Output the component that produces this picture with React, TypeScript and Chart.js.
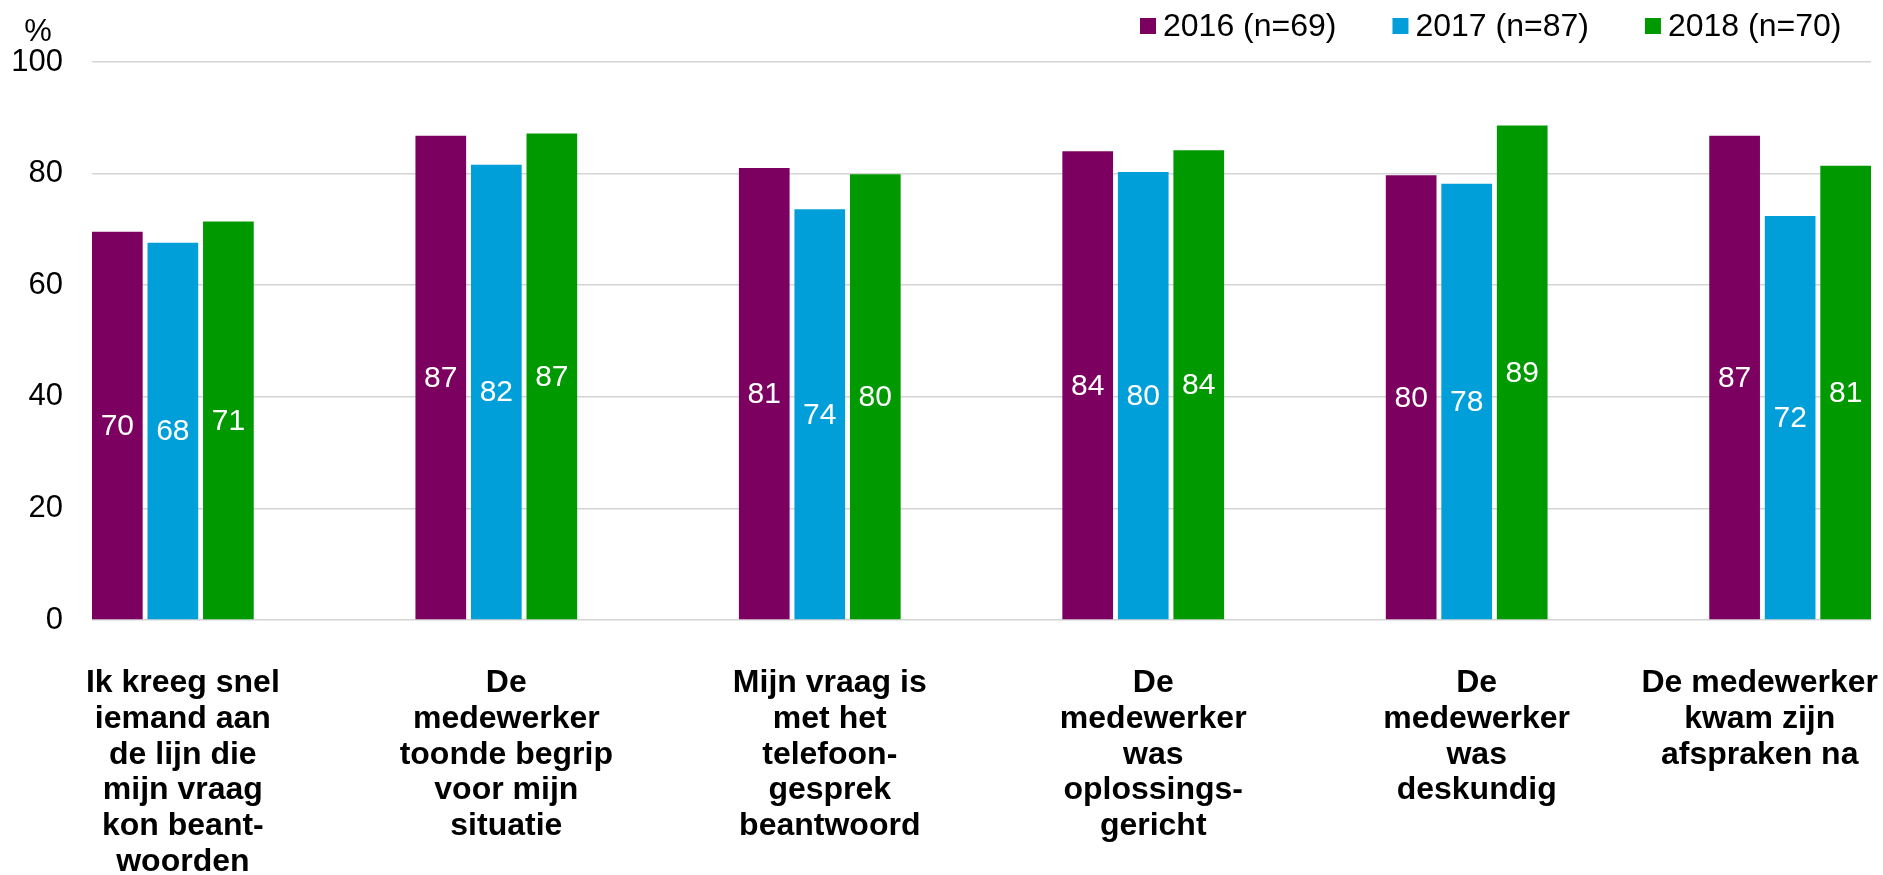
import React, { useEffect, useRef } from 'react';
import { Chart, registerables } from 'chart.js';

Chart.register(...registerables);

const categories: string[][] = [
  ['Ik kreeg snel', 'iemand aan', 'de lijn die', 'mijn vraag', 'kon beant-', 'woorden'],
  ['De', 'medewerker', 'toonde begrip', 'voor mijn', 'situatie'],
  ['Mijn vraag is', 'met het', 'telefoon-', 'gesprek', 'beantwoord'],
  ['De', 'medewerker', 'was', 'oplossings-', 'gericht'],
  ['De', 'medewerker', 'was', 'deskundig'],
  ['De medewerker', 'kwam zijn', 'afspraken na'],
];

const seriesLabels = ['2016 (n=69)', '2017 (n=87)', '2018 (n=70)'];
const seriesColors = ['#7B0060', '#009FDA', '#009900'];

const values2016 = [69.6, 86.8, 81.0, 84.0, 79.7, 86.8];
const values2017 = [67.6, 81.6, 73.6, 80.3, 78.2, 72.4];
const values2018 = [71.4, 87.2, 79.9, 84.2, 88.6, 81.4];

const yTicks = [0, 20, 40, 60, 80, 100];
const yUnit = '%';

const FONT = "'Liberation Sans', Arial, Helvetica, sans-serif";

const decorPlugin = {
  id: 'decor',
  afterDatasetsDraw(chart: any) {
    const ctx = chart.ctx;
    ctx.save();
    ctx.fillStyle = '#ffffff';
    ctx.font = `30px ${FONT}`;
    ctx.textAlign = 'center';
    ctx.textBaseline = 'middle';
    chart.data.datasets.forEach((ds: any, di: number) => {
      const meta = chart.getDatasetMeta(di);
      meta.data.forEach((el: any, i: number) => {
        const v = ds.data[i].y;
        ctx.fillText(String(Math.round(v)), el.x, (el.y + el.base) / 2 + 1);
      });
    });
    ctx.restore();
  },
  afterDraw(chart: any) {
    const ctx = chart.ctx;
    const area = chart.chartArea;
    const xScale = chart.scales.x;
    const W = chart.width;

    // unit label
    ctx.save();
    ctx.fillStyle = '#000';
    ctx.font = `31px ${FONT}`;
    ctx.textAlign = 'center';
    ctx.textBaseline = 'alphabetic';
    ctx.fillText(yUnit, 38, 41);
    ctx.restore();

    // category labels
    ctx.save();
    ctx.fillStyle = '#000';
    ctx.font = `bold 32px ${FONT}`;
    ctx.textAlign = 'center';
    ctx.textBaseline = 'alphabetic';
    const lineH = 35.8;
    categories.forEach((lines, i) => {
      const maxW = Math.max(...lines.map((l) => ctx.measureText(l).width));
      let cx = xScale.getPixelForValue(i) + 10;
      const half = maxW / 2;
      cx = Math.min(Math.max(cx, half + 5), W - half - 5);
      lines.forEach((l, li) => {
        ctx.fillText(l, cx, area.bottom + 72 + li * lineH);
      });
    });
    ctx.restore();

    // legend
    ctx.save();
    ctx.font = `32px ${FONT}`;
    ctx.textBaseline = 'alphabetic';
    ctx.textAlign = 'left';
    let x = 1140;
    chart.data.datasets.forEach((ds: any) => {
      ctx.fillStyle = ds.backgroundColor;
      ctx.fillRect(x, 18, 16, 16);
      ctx.fillStyle = '#000';
      ctx.fillText(ds.label, x + 23, 36);
      const tw = ctx.measureText(ds.label).width;
      x += 23 + tw + 56;
    });
    ctx.restore();
  },
};

export default function App() {
  const canvasRef = useRef<HTMLCanvasElement | null>(null);

  useEffect(() => {
    if (!canvasRef.current) return;
    const series = [values2016, values2017, values2018];
    const chart = new Chart(canvasRef.current, {
      type: 'bar',
      data: {
        datasets: series.map((vals, si) => ({
          label: seriesLabels[si],
          data: vals.map((v, i) => ({ x: i, y: v })),
          backgroundColor: seriesColors[si],
          borderWidth: 0,
          categoryPercentage: 0.515,
          barPercentage: 0.913,
        })),
      },
      options: {
        animation: false,
        responsive: true,
        maintainAspectRatio: false,
        layout: { padding: { top: 62, right: 12, left: 0, bottom: 0 } },
        plugins: {
          legend: { display: false },
          tooltip: { enabled: false },
        },
        scales: {
          x: {
            type: 'linear',
            offset: false,
            min: -0.25,
            max: categories.length - 0.75,
            grid: { display: false, offset: false },
            border: { display: false },
            ticks: { display: false },
            afterBuildTicks: (scale: any) => {
              scale.ticks = categories.map((_, i) => ({ value: i }));
            },
            afterFit: (scale: any) => {
              scale.height = 255;
              scale.paddingLeft = 0;
              scale.paddingRight = 0;
            },
          },
          y: {
            min: 0,
            max: 100,
            grid: { color: '#d4d4d4', lineWidth: 1.5, drawTicks: false },
            border: { display: false },
            ticks: {
              stepSize: 20,
              padding: 29,
              color: '#000',
              font: { size: 31, family: FONT },
            },
            afterBuildTicks: (scale: any) => {
              scale.ticks = yTicks.map((v) => ({ value: v }));
            },
            afterFit: (scale: any) => {
              scale.width = 92;
              scale.paddingTop = 0;
              scale.paddingBottom = 0;
            },
          },
        },
      } as any,
      plugins: [decorPlugin],
    });
    return () => chart.destroy();
  }, []);

  return (
    <div style={{ position: 'fixed', left: 0, top: 0, width: 1883, height: 875, background: '#fff' }}>
      <canvas ref={canvasRef} />
    </div>
  );
}
